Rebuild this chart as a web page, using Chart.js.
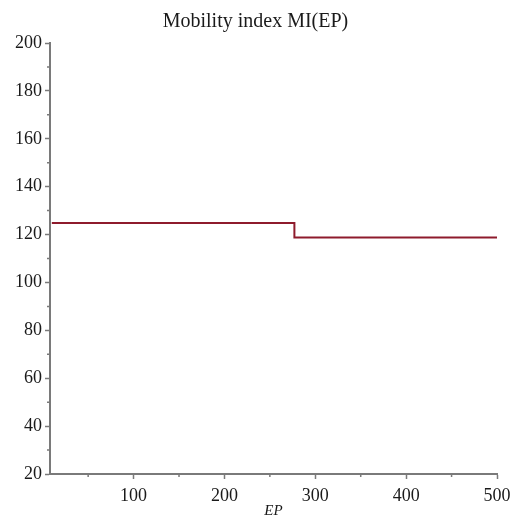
<!DOCTYPE html>
<html>
<head>
<meta charset="utf-8">
<script src="https://cdn.jsdelivr.net/npm/chart.js@4/dist/chart.umd.min.js"></script>
<style>
  html, body { margin: 0; padding: 0; background: #fff; }
  #wrap { width: 511px; height: 519px; }
</style>
</head>
<body>
<div id="wrap"><canvas id="c" width="511" height="519"></canvas></div>
<script>
// Mobility index as a function of EP (piecewise constant)
const epBreaks = [10, 277, 500];
const miValues = [124.8, 118.8, 118.8];
const xMajorTicks = [100, 200, 300, 400, 500];
const xMinorTicks = [50, 150, 250, 350, 450];
const yMajorTicks = [20, 40, 60, 80, 100, 120, 140, 160, 180, 200];
const yMinorTicks = [30, 50, 70, 90, 110, 130, 150, 170, 190];

const points = epBreaks.map((x, i) => ({ x: x, y: miValues[i] }));

const axisColor = '#7a7a7a';
const textColor = '#1a1a1a';
const serif = '"Liberation Serif", "Times New Roman", serif';

// Short minor tick marks drawn through the scales
const minorTicks = {
  id: 'minorTicks',
  afterDraw(chart) {
    const ctx = chart.ctx;
    const xs = chart.scales.x, ys = chart.scales.y;
    ctx.save();
    ctx.strokeStyle = axisColor;
    ctx.lineWidth = 1.5;
    ctx.beginPath();
    xMinorTicks.forEach(v => {
      const px = xs.getPixelForValue(v);
      ctx.moveTo(px, ys.bottom);
      ctx.lineTo(px, ys.bottom + 3);
    });
    yMinorTicks.forEach(v => {
      const py = ys.getPixelForValue(v);
      ctx.moveTo(xs.left, py);
      ctx.lineTo(xs.left - 3, py);
    });
    ctx.stroke();
    ctx.restore();
  }
};

new Chart(document.getElementById('c'), {
  type: 'line',
  data: {
    datasets: [{
      data: points,
      borderColor: '#8e1b2c',
      borderWidth: 2,
      pointRadius: 0,
      fill: false,
      stepped: 'before'
    }]
  },
  options: {
    responsive: false,
    animation: false,
    layout: { padding: 0 },
    plugins: {
      legend: { display: false },
      tooltip: { enabled: false },
      title: {
        display: true,
        text: 'Mobility index MI(EP)',
        color: textColor,
        font: { family: serif, size: 20, weight: 'normal', lineHeight: 1.2 },
        padding: { top: 10, bottom: 9 }
      }
    },
    scales: {
      x: {
        type: 'linear',
        min: 8,
        max: 500,
        afterBuildTicks: s => { s.ticks = xMajorTicks.map(v => ({ value: v })); },
        afterFit: s => { s.height = 45; s.paddingLeft = 0; s.paddingRight = 14; },
        border: { display: true, color: axisColor, width: 2 },
        grid: { display: true, drawOnChartArea: false, drawTicks: true, tickLength: 5, tickColor: axisColor, tickWidth: 1.5 },
        ticks: {
          color: textColor,
          padding: 6,
          maxRotation: 0,
          font: { family: serif, size: 18, lineHeight: 1.2 },
          callback: v => String(v)
        },
        title: {
          display: true,
          text: 'EP',
          color: textColor,
          font: { family: serif, size: 15, style: 'italic', lineHeight: 1.0 },
          padding: { top: 0, bottom: 0 }
        }
      },
      y: {
        type: 'linear',
        min: 20,
        max: 200,
        afterBuildTicks: s => { s.ticks = yMajorTicks.map(v => ({ value: v })); },
        afterFit: s => { s.width = 50; s.paddingTop = 0; s.paddingBottom = 0; },
        border: { display: true, color: axisColor, width: 2 },
        grid: { display: true, drawOnChartArea: false, drawTicks: true, tickLength: 5, tickColor: axisColor, tickWidth: 1.5 },
        ticks: {
          color: textColor,
          padding: 3,
          font: { family: serif, size: 18, lineHeight: 1.2 },
          callback: v => String(v)
        }
      }
    }
  },
  plugins: [minorTicks]
});
</script>
</body>
</html>
